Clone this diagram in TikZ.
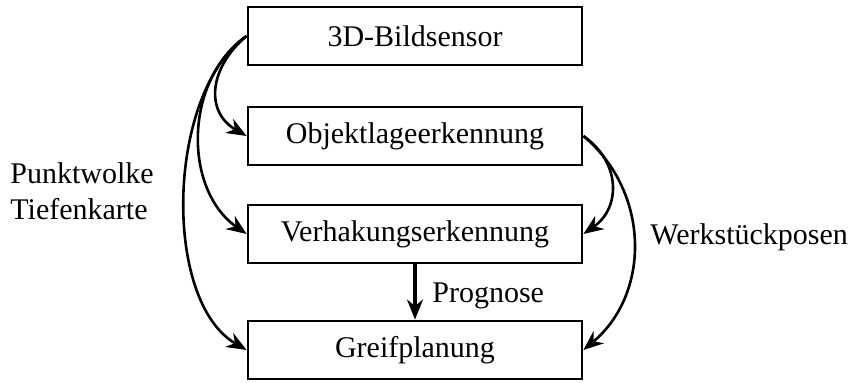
\documentclass[tikz,border=0pt]{standalone}
\usepackage{fontspec}
\setmainfont{Liberation Serif}
\usetikzlibrary{arrows.meta}
\begin{document}
\begin{tikzpicture}[x=0.5pt,y=-0.5pt,
  font=\fontsize{15}{18}\selectfont,
  stage/.style={draw,line width=1.4pt,minimum width=167pt,minimum height=29pt,inner sep=0pt},
  flow/.style={line width=1.3pt,-{Stealth[length=10pt,width=8pt]}},
  lbl/.style={inner sep=0pt,align=left}]
\useasboundingbox (0,0) rectangle (855,383);
\node[stage] (sensor) at (415,36) {3D-Bildsensor};
\node[stage] (objekt) at (415,136) {Objektlageerkennung};
\node[stage] (verh) at (415,234) {Verhakungserkennung};
\node[stage] (greif) at (415,350) {Greifplanung};

\draw[flow] (sensor.west) to[out=220,in=150,looseness=1.25] (objekt.west);
\draw[flow] (sensor.west) to[out=215,in=145,looseness=1.0] (verh.west);
\draw[flow] (sensor.west) to[out=215,in=150,looseness=0.8] (greif.west);

\draw[flow] (objekt.east) to[out=-35,in=35,looseness=1.2] (verh.east);
\draw[flow] (objekt.east) to[out=-40,in=40,looseness=1.05] (greif.east);

\draw[flow,line width=1.7pt] (verh.south) -- (greif.north);

\node[lbl,anchor=west] (pw) at (10,191) {Punktwolke\\Tiefenkarte};
\node[lbl,anchor=west] (wp) at (650,237) {Werkstückposen};
\node[lbl,anchor=west] (prog) at (432,296) {Prognose};
\end{tikzpicture}
\end{document}
